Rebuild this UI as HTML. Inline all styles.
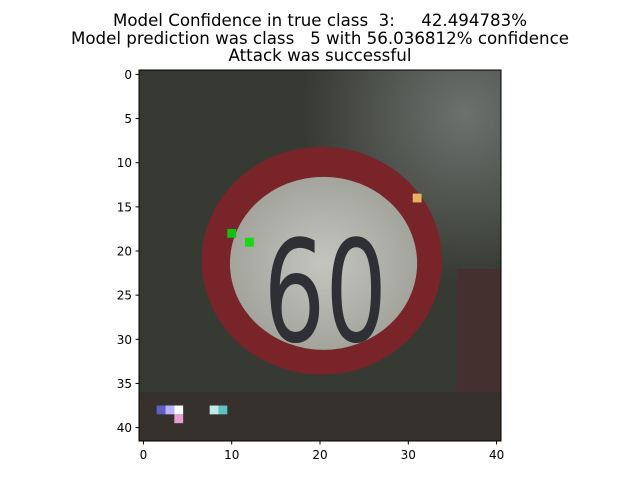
<!DOCTYPE html>
<html><head><meta charset="utf-8"><style>
body{margin:0;background:#fff;width:640px;height:480px;overflow:hidden}
text{font-family:"DejaVu Sans","Liberation Sans",sans-serif;white-space:pre}
</style></head><body>
<svg id="chart" width="640" height="480" xmlns="http://www.w3.org/2000/svg">
<defs>
<radialGradient id="bgGrad" cx="0.9" cy="0.12" r="0.45"><stop offset="0" stop-color="#6d716e"/><stop offset="1" stop-color="#373a33"/></radialGradient>
<radialGradient id="innerGrad" cx="0.5" cy="0.5" r="0.5"><stop offset="0" stop-color="#c4c5bf"/><stop offset="1" stop-color="#a3a49c"/></radialGradient>
<clipPath id="imgClip"><rect x="139" y="70" width="362" height="371"/></clipPath>
</defs>
<g font-size="16.5" text-anchor="middle" fill="#000">
<text x="320" y="26" xml:space="preserve" textLength="414" lengthAdjust="spacingAndGlyphs">Model Confidence in true class  3:     42.494783%</text>
<text x="320" y="44" xml:space="preserve" textLength="498" lengthAdjust="spacingAndGlyphs">Model prediction was class   5 with 56.036812% confidence</text>
<text x="320" y="61" textLength="183" lengthAdjust="spacingAndGlyphs">Attack was successful</text>
</g>
<g id="img" clip-path="url(#imgClip)"></g>
<rect x="139" y="70" width="362" height="371" fill="none" stroke="#000" stroke-width="1"/>
<g id="ticks"></g>
</svg>
<script>
const xTicks=[0,10,20,30,40];
const yTicks=[0,5,10,15,20,25,30,35,40];
const pertX=[10,12,31];
const pertY=[18,19,14];
const pertColor=["#12c010","#18d814","#e8b060"];
const ns="http://www.w3.org/2000/svg";
const X0=139,Y0=70,S=362/41;
const sx=v=>X0+(v+0.5)*S, sy=v=>Y0+(v+0.5)*S;
function el(t,a,p){const e=document.createElementNS(ns,t);for(const k in a)e.setAttribute(k,a[k]);p.appendChild(e);return e;}
const img=document.getElementById('img');
let e;
e=el('rect',{x:X0,y:Y0,width:362,height:371,fill:'url(#bgGrad)'},img);

e=el('rect',{x:sx(35.5),y:sy(22),width:S*5,height:S*20,fill:'#43302f'},img);

e=el('rect',{x:sx(-0.5),y:sy(36),width:S*41,height:S*6,fill:'#36312c'},img);

e=el('ellipse',{cx:sx(20.2),cy:sy(21.1),rx:S*13.6,ry:S*12.9,fill:'#782428'},img);

e=el('ellipse',{cx:sx(20.4),cy:sy(21.4),rx:S*10.6,ry:S*9.8,fill:'url(#innerGrad)'},img);

e=el('text',{x:sx(20.6),y:sy(30.2),'font-size':S*16,'text-anchor':'middle',fill:'#2f3036','font-family':'Liberation Sans, sans-serif',textLength:S*14,lengthAdjust:'spacingAndGlyphs'},img);
e.textContent='60';

const bright=[[3,38,'#b8b0ff'],[4,38,'#ffffff'],[4,39,'#e8a0d0'],[8,38,'#c0e8e8'],[9,38,'#60c0c0'],[2,38,'#6060c0']];
bright.forEach(b=>{const r=el('rect',{x:sx(b[0]-0.5),y:sy(b[1]-0.5),width:S,height:S,fill:b[2]},img);
});
for(let i=0;i<pertX.length;i++){
 const r=el('rect',{x:sx(pertX[i]-0.5),y:sy(pertY[i]-0.5),width:S,height:S,fill:pertColor[i]},img);
 
 
}
const tg=document.getElementById('ticks');
xTicks.forEach(v=>{
 const l=el('line',{x1:sx(v),x2:sx(v),y1:441,y2:444.5,stroke:'#000'},tg);
 
 const t=el('text',{x:sx(v),y:459,'font-size':12,'text-anchor':'middle'},tg);t.textContent=v;
 
});
yTicks.forEach(v=>{
 const l=el('line',{x1:135.5,x2:139,y1:sy(v),y2:sy(v),stroke:'#000'},tg);
 
 const t=el('text',{x:132,y:sy(v)+4.5,'font-size':12,'text-anchor':'end'},tg);t.textContent=v;
 
});
</script>
</body></html>
